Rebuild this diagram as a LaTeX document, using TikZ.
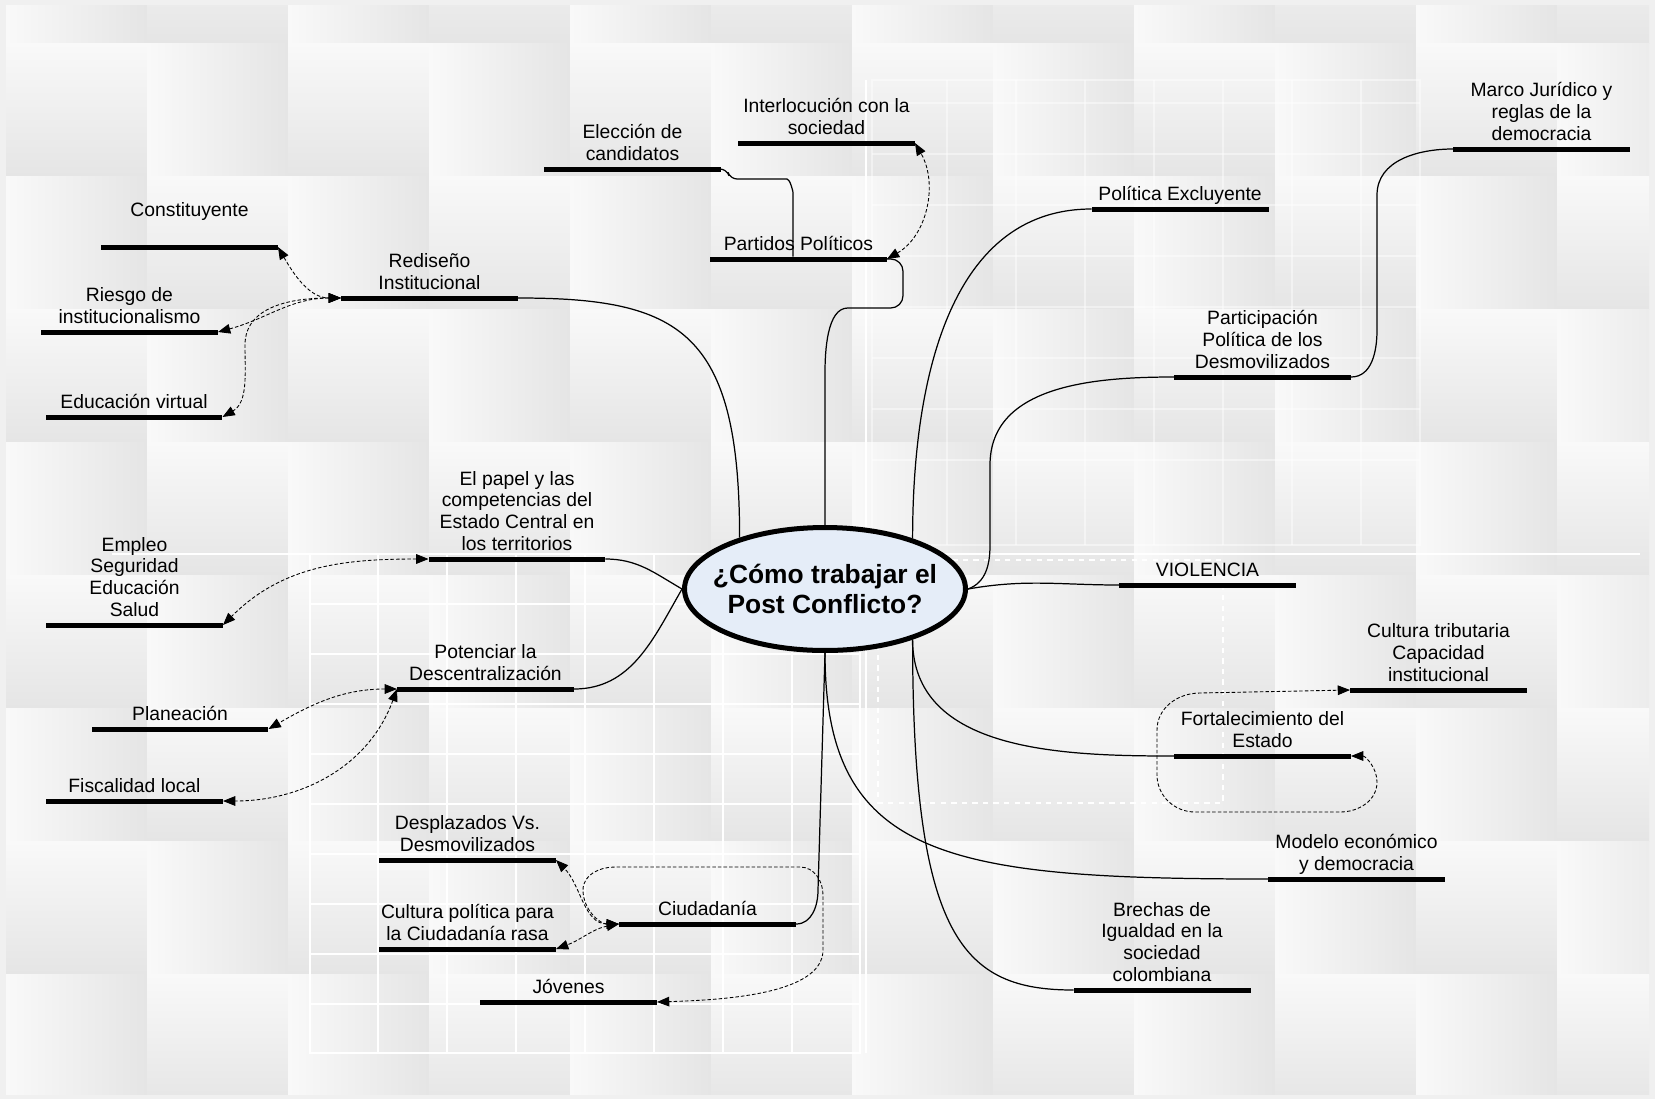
\documentclass[tikz,border=0pt]{standalone}
\usepackage{fontspec}
\setmainfont{Liberation Sans}
\usetikzlibrary{arrows.meta, shapes.geometric}
\definecolor{paper}{RGB}{240,240,240}
\definecolor{tilelight}{RGB}{249,249,249}
\definecolor{tiledark}{RGB}{229,229,229}
\definecolor{bubble}{RGB}{229,237,248}

\begin{document}
\begin{tikzpicture}[x=0.02cm, y=-0.02cm, label distance=3.3pt,
  bar/.style={fill=black, inner sep=0pt, outer sep=0pt, minimum width=3.54cm, minimum height=0.1cm},
  tag/.style={align=center, inner sep=0pt, text depth=0pt, font=\fontsize{11}{12.35}\selectfont},
  branch/.style={line width=0.7pt},
  link/.style={line width=0.5pt, dash pattern=on 2pt off 1.2pt, {Triangle[length=7pt,width=5.5pt]}-{Triangle[length=7pt,width=5.5pt]}}]
  \useasboundingbox (0,0) rectangle (1655,1099);
  \fill[paper] (0,0) rectangle (1655,1099);
  \begin{scope}
    \clip (6,5) rectangle (1649,1094);
    \foreach \i in {0,...,11}
      \foreach \j in {0,...,8} {
        \pgfmathtruncatemacro\odd{mod(\i+\j,2)}
        \ifnum\odd=0
          \shade[left color=tilelight, right color=tiledark] (6+141*\i,-90+133*\j) rectangle ++(141,133);
        \else
          \shade[top color=tilelight, bottom color=tiledark] (6+141*\i,-90+133*\j) rectangle ++(141,133);
        \fi
      }
  \end{scope}
  \draw[white, line width=0.8pt] (112,554) -- (1640,554);
  \draw[white, line width=0.8pt] (866,80) -- (866,1053);
  \draw[white, line width=0.6pt] (310,554) rectangle (860,1053);
  \foreach \y in {604,654,...,1004} \draw[white, line width=0.6pt] (310,\y) -- (860,\y);
  \foreach \x in {378,447,...,792} \draw[white, line width=0.6pt] (\x,554) -- (\x,1053);
  \draw[white, opacity=0.45, line width=0.6pt] (872,80) rectangle (1420,545);
  \foreach \x in {947,1016,...,1361} \draw[white, opacity=0.45, line width=0.6pt] (\x,80) -- (\x,545);
  \foreach \y in {103,154,...,505} \draw[white, opacity=0.45, line width=0.6pt] (872,\y) -- (1420,\y);
  \draw[white, dashed, line width=0.8pt] (878,560) rectangle (1223,803);

  % centre
  \node[draw, ellipse, line width=2.85pt, fill=bubble, minimum width=5.62cm, minimum height=2.46cm,
    inner xsep=-0.5cm, inner ysep=0pt, align=center, font=\fontsize{15}{17.2}\selectfont\bfseries]
    (cen) at (825,589) {¿Cómo trabajar el\\Post Conflicto?};

  % topics
  \node[bar, label={[tag, label distance=15.6pt]above:Constituyente}] (const) at (189.5,247) {};
  \node[bar, label={[tag]above:Rediseño\\Institucional}] (redis) at (429.5,298) {};
  \node[bar, label={[tag]above:Riesgo de\\institucionalismo}] (riesgo) at (129.5,332) {};
  \node[bar, label={[tag]above:Educación virtual}] (educ) at (134,417) {};
  \node[bar, label={[tag]above:Elección de\\candidatos}] (eleccion) at (632.5,169) {};
  \node[bar, label={[tag]above:Interlocución con la\\sociedad}] (interl) at (826.5,143) {};
  \node[bar, label={[tag]above:Partidos Políticos}] (partidos) at (798.5,259) {};
  \node[bar, label={[tag]above:Política Excluyente}] (politica) at (1180,209) {};
  \node[bar, label={[tag]above:Marco Jurídico y\\reglas de la\\democracia}] (marco) at (1541.5,149) {};
  \node[bar, label={[tag]above:Participación\\Política de los\\Desmovilizados}] (partic) at (1262.5,377) {};
  \node[bar, label={[tag]above:El papel y las\\competencias del\\Estado Central en\\los territorios}] (papel) at (517,559) {};
  \node[bar, label={[tag]above:Empleo\\Seguridad\\Educación\\Salud}] (empleo) at (134.5,625) {};
  \node[bar, label={[tag]above:Potenciar la\\Descentralización}] (potenciar) at (485.5,689) {};
  \node[bar, label={[tag]above:Planeación}] (planeac) at (180,729) {};
  \node[bar, label={[tag]above:Fiscalidad local}] (fiscal) at (134.5,801) {};
  \node[bar, label={[tag]above:VIOLENCIA}] (violencia) at (1207.5,585) {};
  \node[bar, label={[tag]above:Cultura tributaria\\Capacidad\\institucional}] (cultura) at (1438.5,690) {};
  \node[bar, label={[tag]above:Fortalecimiento del\\Estado}] (fortal) at (1262.5,756) {};
  \node[bar, label={[tag]above:Modelo económico\\y democracia}] (modelo) at (1356.5,879) {};
  \node[bar, label={[tag]above:Brechas de\\Igualdad en la\\sociedad\\colombiana}] (brechas) at (1162,990) {};
  \node[bar, label={[tag]above:Desplazados Vs.\\Desmovilizados}] (desplaz) at (467.5,860) {};
  \node[bar, label={[tag]above:Cultura política para\\la Ciudadanía rasa}] (cultpol) at (467.5,949) {};
  \node[bar, label={[tag]above:Ciudadanía}] (ciudad) at (707.5,924) {};
  \node[bar, label={[tag]above:Jóvenes}] (jovenes) at (568.5,1002) {};

  % branches
  \draw[branch] (cen.149) .. controls +(0,-207) and +(162,0) .. (redis.east);
  \draw[branch, rounded corners=7] (cen.north) -- (825,385) to[out=90,in=180] (860,308) -- (903,308) -- (903,259) -- (partidos.east);
  \draw[branch, rounded corners=4] (eleccion.east) -- (727,169) -- (730,179) -- (780,179) to[out=0,in=90] (793,200) -- ([xshift=-0.11cm]partidos.north);
  \draw[branch] (cen.30) to[out=90,in=180] (politica.west);
  \draw[branch] (cen.east) to[out=20,in=-90] (990,545) -- (990,465) to[out=90,in=180] (partic.west);
  \draw[branch] (partic.east) to[out=0,in=-90] (1377,330) -- (1377,195) to[out=90,in=180] (marco.west);
  \draw[branch] (cen.east) to[out=10,in=180] (violencia.west);
  \draw[branch] (cen.-30) to[out=-90,in=180] (fortal.west);
  \draw[branch] (cen.south) .. controls +(0,207) and +(-318,0) .. (modelo.west);
  \draw[branch] (cen.-30) .. controls +(0,300) and +(-110,0) .. (brechas.west);
  \draw[branch] (cen.south) -- (818,890) to[out=-90,in=0] (ciudad.east);
  \draw[branch] (cen.west) to[out=150,in=0] (papel.east);
  \draw[branch] (cen.west) to[out=240,in=0] (potenciar.east);

  % links
  \draw[link] (const.east) to[out=-60,in=180] (redis.west);
  \draw[link] (redis.west) to[out=180,in=15] (riesgo.east);
  \draw[link] (redis.west) to[out=180,in=90] (245,345) to[out=-90,in=30] (educ.east);
  \draw[link] (papel.west) to[out=180,in=45] (empleo.east);
  \draw[link] (potenciar.west) to[out=180,in=30] (planeac.east);
  \draw[link] (potenciar.west) to[out=250,in=0] (fiscal.east);
  \draw[link] (ciudad.west) to[out=180,in=-45] (desplaz.east);
  \draw[link] (ciudad.west) to[out=190,in=20] (cultpol.east);
  \draw[link] (ciudad.west) to[out=180,in=-90] (583,890) to[out=90,in=180] (615,867) -- (800,867) to[out=0,in=90] (823,895) -- (823,950) .. controls (823,995) and (720,1000) .. (jovenes.east);
  \draw[link] (partidos.east) to[out=30,in=-60] (interl.east);
  \draw[link] (fortal.east) to[out=0,in=90] (1377,782) to[out=-90,in=0] (1340,812) -- (1195,812) to[out=180,in=-90] (1157,775) -- (1157,730) to[out=90,in=180] (1200,693) -- (cultura.west);
\end{tikzpicture}
\end{document}
